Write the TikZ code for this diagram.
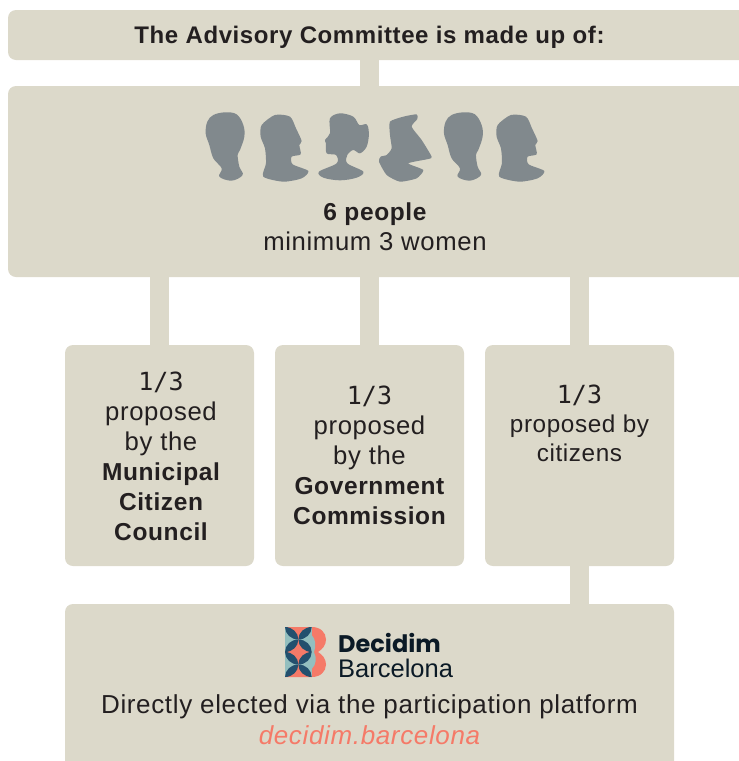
\documentclass[tikz,border=0pt]{standalone}
\usepackage{fontspec}
\setmainfont[LetterSpace=2.5]{Liberation Sans}
\newfontfamily\logofont{Poppins}
\newfontfamily\logolight{Liberation Sans}
\newfontfamily\monofont{DejaVu Sans Mono}
\definecolor{boxc}{HTML}{DCD9CA}
\definecolor{headc}{HTML}{81898D}
\definecolor{inkc}{HTML}{231F20}
\definecolor{coralc}{HTML}{F57A68}
\definecolor{tealc}{HTML}{93BFBF}
\definecolor{navyc}{HTML}{23506E}
\definecolor{logoink}{HTML}{0B1A26}
\newcommand{\bsize}[1]{{\fontsize{24.5}{30}\selectfont\bfseries #1}}
\newcommand{\fracmono}{{\monofont\fontsize{25}{30}\selectfont 1/3}}
\tikzset{
  panel/.style={fill=boxc,draw=none,rounded corners=8pt},
  link/.style={fill=boxc,draw=none},
  head/.style={fill=headc,draw=none},
  lbl/.style={text=inkc,font=\fontsize{25.7}{30}\selectfont,align=center,inner sep=0pt},
}
\begin{document}
\begin{tikzpicture}[x=1pt,y=-1pt]
\useasboundingbox (0,0) rectangle (739,761);
\clip (0,0) rectangle (739,761);
\fill[link] (360,55) rectangle (379,90);
\fill[link] (150,270) rectangle (169,350);
\fill[link] (360,270) rectangle (379,350);
\fill[link] (570,270) rectangle (589,350);
\fill[link] (570,560) rectangle (589,610);
\fill[panel] (8,10) rectangle (760,60);
\fill[panel] (8,86) rectangle (760,277);
\fill[panel] (65,345) rectangle (254,566);
\fill[panel] (275,345) rectangle (464,566);
\fill[panel] (485,345) rectangle (674,566);
\fill[panel] (65,604) rectangle (674,790);
% heads
\begin{scope}[shift={(190,95)},x=0.3333pt,y=-0.3333pt]
\foreach \d in {0,715}{
\fill[head,shift={(\d,0)}] plot[smooth cycle,tension=0.6] coordinates {(105,52)(140,58)(160,90)(163,125)(150,165)(143,180)(148,215)(158,240)(125,257)(88,245)(95,220)(70,190)(58,150)(47,115)(52,80)(70,60)};}
\foreach \d in {0,708}{
\fill[head,shift={(\d,0)}] plot[smooth cycle,tension=0.45] coordinates {(255,60)(300,65)(318,100)(335,138)(328,150)(332,178)(305,185)(308,208)(355,228)(335,250)(280,260)(220,245)(228,205)(225,160)(212,125)(215,90)};}
\fill[head] plot[smooth cycle,tension=0.55] coordinates {(450,55)(490,65)(508,90)(530,88)(537,115)(530,155)(510,175)(490,165)(472,180)(472,205)(520,230)(500,248)(450,256)(400,248)(387,230)(440,205)(438,180)(410,175)(408,145)(405,135)(420,115)(420,70)};
\fill[head] plot[smooth cycle,tension=0.35] coordinates {(600,80)(640,65)(680,58)(682,72)(665,95)(695,135)(725,185)(715,192)(655,205)(700,225)(680,250)(630,260)(590,240)(567,200)(572,185)(590,180)(605,160)(600,120)};
\end{scope}
% logo
\begin{scope}[shift={(285,627)}]
\fill[coralc] (26.7,0) .. controls (35.5,0) and (41,5.5) .. (41,12.5) .. controls (41,18.5) and (37,22.5) .. (33,25) .. controls (37,27.5) and (41,31.5) .. (41,37.5) .. controls (41,44.5) and (35.5,50) .. (26.7,50) -- cycle;
\fill[tealc] (26.7,8) .. controls (31,12) and (31,20) .. (29,25) -- (26.7,25) -- cycle;
\fill[tealc] (26.7,25) -- (29,25) .. controls (32,31) and (31,38) .. (26.7,42) -- cycle;
\foreach \y in {12.5,37.5}{
\begin{scope}[shift={(13.35,\y)}]
\fill[tealc] (-13.35,-12.5) rectangle (13.35,12.5);
\fill[coralc] (-13.35,-12.5) -- (13.35,-12.5) -- (0,0) -- cycle;
\fill[coralc] (-13.35,12.5) -- (13.35,12.5) -- (0,0) -- cycle;
\foreach \dx in {-13.35,13.35}{\foreach \dy in {-12.5,12.5}{
\fill[navyc] (0,0) .. controls (0,0.55*\dy) and (0.45*\dx,\dy) .. (\dx,\dy) .. controls (\dx,0.45*\dy) and (0.55*\dx,0) .. (0,0) -- cycle;
}}
\end{scope}}
\end{scope}
\node[lbl,font=\fontsize{24}{30}\selectfont\bfseries] (title) at (369.5,37) {The Advisory Committee is made up of:};
\node[lbl] (six) at (375,227) {\bsize{6 people}\\minimum 3 women};
\node[lbl] (a) at (161,456.5) {\fracmono\\proposed\\by the\\\bsize{Municipal}\\\bsize{Citizen}\\\bsize{Council}};
\node[lbl] (b) at (369.5,455.5) {\fracmono\\proposed\\by the\\\bsize{Government}\\\bsize{Commission}};
\node[lbl,font=\fontsize{24.3}{29}\selectfont] (c) at (579.5,423) {{\monofont\fontsize{25}{29}\selectfont 1/3}\\proposed by\\citizens};
\node[inner sep=0pt,anchor=west,font=\fontsize{24}{26}\selectfont\logofont\bfseries,text=logoink] (l1) at (338,643) {Decidim};
\node[inner sep=0pt,anchor=base west,font=\fontsize{25.5}{26}\selectfont\logolight,text=logoink] (l2) at (338,677) {Barcelona};
\node[lbl,font=\fontsize{26}{30}\selectfont] (e) at (369.5,707) {Directly elected via the participation platform};
\node[lbl,text=coralc,font=\fontsize{26}{30}\selectfont\itshape] (f) at (369.5,735) {decidim.barcelona};
\end{tikzpicture}
\end{document}
